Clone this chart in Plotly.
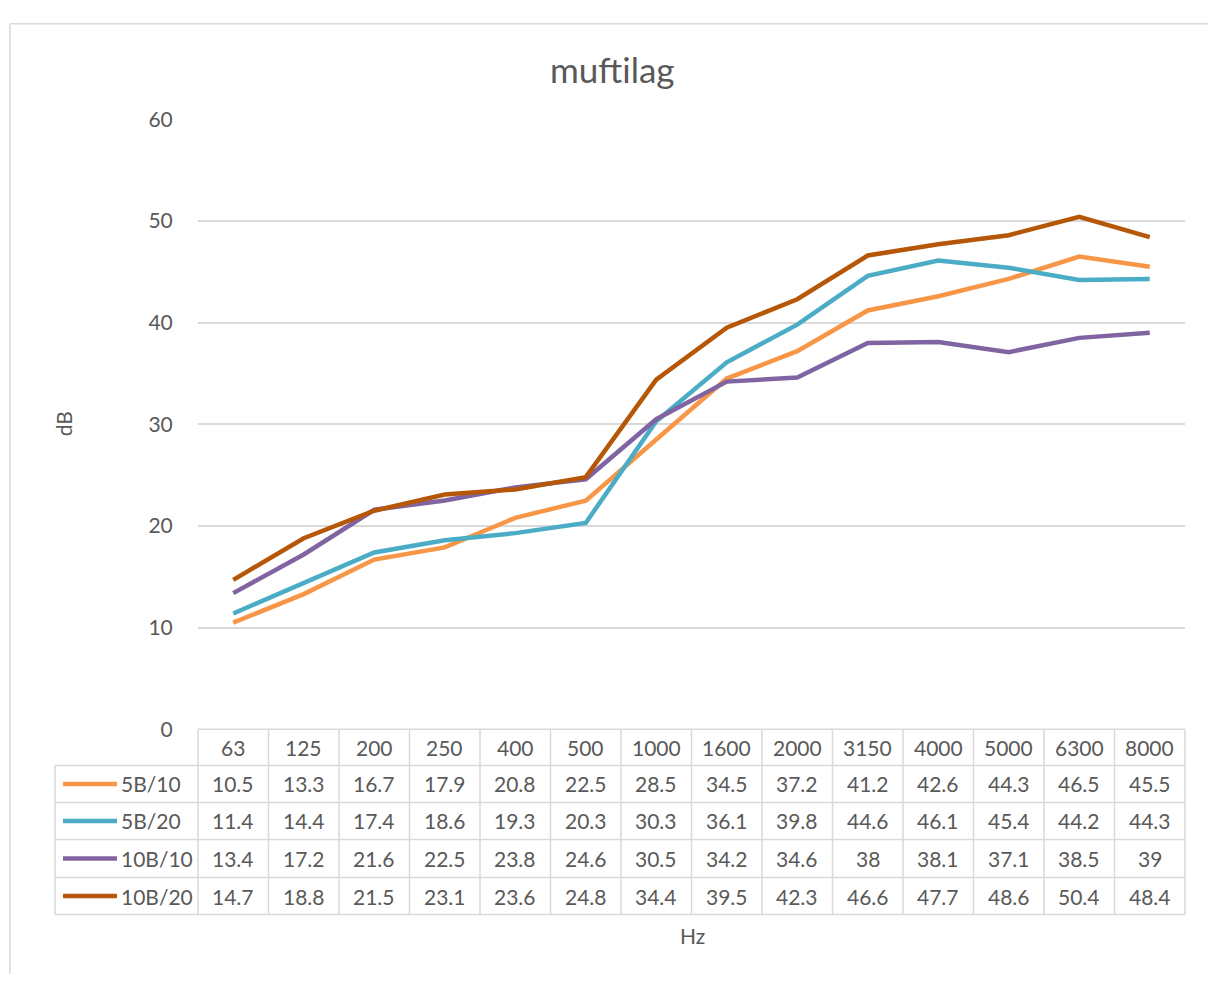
import plotly.graph_objects as go

W, H = 1208, 985
title = "muftilag"
categories = ["63", "125", "200", "250", "400", "500", "1000", "1600", "2000", "3150", "4000", "5000", "6300", "8000"]
series_names = ["5B/10", "5B/20", "10B/10", "10B/20"]
s_5b10 = [10.5, 13.3, 16.7, 17.9, 20.8, 22.5, 28.5, 34.5, 37.2, 41.2, 42.6, 44.3, 46.5, 45.5]
s_5b20 = [11.4, 14.4, 17.4, 18.6, 19.3, 20.3, 30.3, 36.1, 39.8, 44.6, 46.1, 45.4, 44.2, 44.3]
s_10b10 = [13.4, 17.2, 21.6, 22.5, 23.8, 24.6, 30.5, 34.2, 34.6, 38, 38.1, 37.1, 38.5, 39]
s_10b20 = [14.7, 18.8, 21.5, 23.1, 23.6, 24.8, 34.4, 39.5, 42.3, 46.6, 47.7, 48.6, 50.4, 48.4]
series_values = [s_5b10, s_5b20, s_10b10, s_10b20]
colors = ["#F79646", "#4BACC6", "#8064A2", "#B65708"]

FONT = "Lato, Carlito, Calibri, sans-serif"
TXT = "#595959"
GRID = "#D9D9D9"
FS = 21

def px(x):
    return x / W

def py(y):
    return 1 - y / H

# layout geometry (pixels)
PL, PR = 198, 1185
Y0, Y60 = 734, 108
LEG_L = 55
row_edges = [734, 771, 809, 847, 886, 924]

fig = go.Figure()
for name, vals, c in zip(series_names, series_values, colors):
    fig.add_trace(go.Scatter(x=list(range(len(categories))), y=vals, mode="lines", name=name,
                             line=dict(color=c, width=4.5), showlegend=False))

shapes = []
annotations = []

# chart border (top and left edges only are visible in the frame)
shapes.append(dict(type="line", xref="paper", yref="paper", x0=px(10), x1=1, y0=py(10), y1=py(10),
                   line=dict(color=GRID, width=1.5), layer="below"))
shapes.append(dict(type="line", xref="paper", yref="paper", x0=px(10), x1=px(10), y0=0, y1=py(10),
                   line=dict(color=GRID, width=1.5), layer="below"))

ncol = len(categories)
colw = (PR - PL) / ncol
# horizontal table lines
for i, y in enumerate(row_edges):
    x0 = PL if i == 0 else LEG_L
    shapes.append(dict(type="line", xref="paper", yref="paper", x0=px(x0), x1=px(PR), y0=py(y), y1=py(y),
                       line=dict(color=GRID, width=1.5)))
# vertical table lines
for j in range(ncol + 1):
    x = PL + j * colw
    shapes.append(dict(type="line", xref="paper", yref="paper", x0=px(x), x1=px(x), y0=py(row_edges[0]), y1=py(row_edges[-1]),
                       line=dict(color=GRID, width=1.5)))
shapes.append(dict(type="line", xref="paper", yref="paper", x0=px(LEG_L), x1=px(LEG_L), y0=py(row_edges[1]), y1=py(row_edges[-1]),
                   line=dict(color=GRID, width=1.5)))

# header
for j, cat in enumerate(categories):
    annotations.append(dict(xref="paper", yref="paper", x=px(PL + (j + 0.5) * colw), y=py((row_edges[0] + row_edges[1]) / 2),
                            text=cat, showarrow=False, font=dict(family=FONT, size=FS, color=TXT),
                            xanchor="center", yanchor="middle"))
# rows
for r, (name, vals, c) in enumerate(zip(series_names, series_values, colors)):
    yc = (row_edges[r + 1] + row_edges[r + 2]) / 2
    shapes.append(dict(type="line", xref="paper", yref="paper", x0=px(63), x1=px(117), y0=py(yc), y1=py(yc),
                       line=dict(color=c, width=4.5)))
    annotations.append(dict(xref="paper", yref="paper", x=px(119), y=py(yc), text=name, showarrow=False,
                            font=dict(family=FONT, size=FS, color=TXT), xanchor="left", yanchor="middle"))
    for j, v in enumerate(vals):
        annotations.append(dict(xref="paper", yref="paper", x=px(PL + (j + 0.5) * colw), y=py(yc),
                                text=f"{v:g}", showarrow=False, font=dict(family=FONT, size=FS, color=TXT),
                                xanchor="center", yanchor="middle"))

# axis titles
annotations.append(dict(xref="paper", yref="paper", x=px(63), y=py(421), text="dB", textangle=-90, showarrow=False,
                        font=dict(family=FONT, size=FS, color=TXT), xanchor="center", yanchor="middle"))
annotations.append(dict(xref="paper", yref="paper", x=px(692), y=py(945), text="Hz", showarrow=False,
                        font=dict(family=FONT, size=FS, color=TXT), xanchor="center", yanchor="middle"))

annotations.append(dict(xref="paper", yref="paper", x=px(612), y=py(56), text=title, showarrow=False,
                        font=dict(family=FONT, size=35, color=TXT), xanchor="center", yanchor="middle"))

fig.update_layout(
    width=W, height=H,
    margin=dict(l=0, r=0, t=0, b=0),
    paper_bgcolor="white", plot_bgcolor="white",
    xaxis=dict(domain=[px(PL), px(PR)], range=[-0.5, ncol - 0.5], showticklabels=False, showgrid=False,
               zeroline=False, showline=False, ticks=""),
    yaxis=dict(domain=[py(Y0), py(Y60)], range=[0, 60], dtick=10, showgrid=True, gridcolor=GRID, gridwidth=1.5,
               zeroline=False, showline=False, ticks="outside", ticklen=20, tickcolor="rgba(0,0,0,0)",
               tickfont=dict(family=FONT, size=FS, color=TXT)),
    shapes=shapes,
    annotations=annotations,
)

post = (
    "document.documentElement.style.margin='0';document.documentElement.style.overflow='hidden';"
    "document.body.style.margin='0';document.body.style.overflow='hidden';"
    "var gd=document.getElementById('{plot_id}');gd.style.position='fixed';gd.style.top='0px';gd.style.left='0px';"
)
fig.write_html("out.html", config={"displayModeBar": False}, post_script=post)
